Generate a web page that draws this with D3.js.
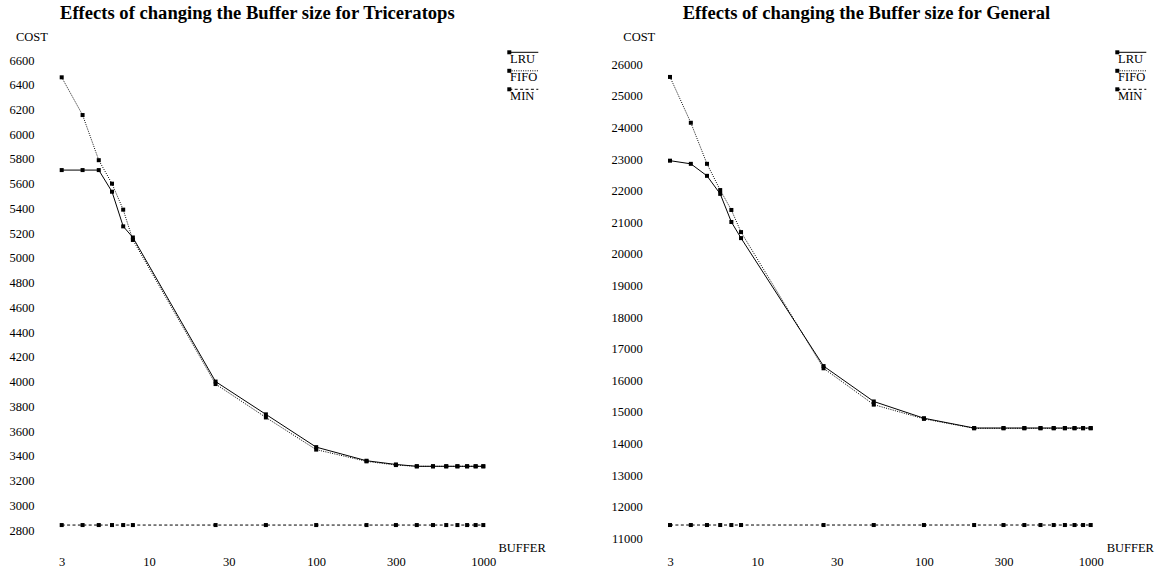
<!DOCTYPE html>
<html>
<head>
<meta charset="utf-8">
<script src="https://cdn.jsdelivr.net/npm/d3@7"></script>
<style>
    body { margin: 0; background: #fff; }
    svg { display: block; }
    text { font-family: "Liberation Serif", "Times New Roman", serif; fill: #000; }
</style>
</head>
<body>
<div id="chart-div"></div>
<script>
// buffer sizes on the x axis (same for both plots)
const bufferSizes = [3, 4, 5, 6, 7, 8, 25, 50, 100, 200, 300, 400, 500, 600, 700, 800, 900, 1000];
const xTickValues = [3, 10, 30, 100, 300, 1000];

// Triceratops costs
const tricLRU = [5710, 5710, 5710, 5535, 5255, 5165, 4000, 3735, 3470, 3360, 3330, 3315, 3315, 3315, 3315, 3315, 3315, 3315];
const tricFIFO = [6460, 6155, 5790, 5600, 5390, 5145, 3980, 3710, 3450, 3355, 3325, 3315, 3315, 3315, 3315, 3315, 3315, 3315];
const tricMIN = [2840, 2840, 2840, 2840, 2840, 2840, 2840, 2840, 2840, 2840, 2840, 2840, 2840, 2840, 2840, 2840, 2840, 2840];
const tricYTicks = [2800, 3000, 3200, 3400, 3600, 3800, 4000, 4200, 4400, 4600, 4800, 5000, 5200, 5400, 5600, 5800, 6000, 6200, 6400, 6600];

// General costs
const genLRU = [22950, 22850, 22470, 21900, 21010, 20500, 16450, 15330, 14800, 14490, 14490, 14490, 14490, 14490, 14490, 14490, 14490, 14490];
const genFIFO = [25600, 24150, 22850, 22020, 21390, 20690, 16380, 15230, 14780, 14480, 14480, 14480, 14480, 14480, 14480, 14480, 14480, 14480];
const genMIN = [11420, 11420, 11420, 11420, 11420, 11420, 11420, 11420, 11420, 11420, 11420, 11420, 11420, 11420, 11420, 11420, 11420, 11420];
const genYTicks = [11000, 12000, 13000, 14000, 15000, 16000, 17000, 18000, 19000, 20000, 21000, 22000, 23000, 24000, 25000, 26000];

const seriesNames = ["LRU", "FIFO", "MIN"];
const dashes = { LRU: null, FIFO: "1,1.3", MIN: "3,2.4" };

const svg = d3.select("#chart-div")
    .append("svg")
    .attr("width", 1158)
    .attr("height", 575);

class Panel {
    constructor(opts) {
        this.opts = opts;
        this.g = svg.append("g");

        // log scale for buffer size, linear for cost
        this.x = d3.scaleLog().domain([3, 1000]).range(opts.xRange);
        this.y = d3.scaleLinear().domain(opts.yDomain).range(opts.yRange);

        this.drawTitle();
        this.drawAxes();
        this.drawLines();
        this.drawLegend();
    }

    drawTitle() {
        this.g.append("text")
            .attr("x", this.opts.titleX)
            .attr("y", 19.3)
            .style("font-size", "18.6px")
            .attr("font-weight", "bold")
            .text(this.opts.title);

        this.g.append("text")
            .attr("x", this.opts.costX)
            .attr("y", 40.5)
            .style("font-size", "12.5px")
            .text("COST");

        this.g.append("text")
            .attr("x", this.opts.bufferX)
            .attr("y", 551.5)
            .style("font-size", "12.5px")
            .text("BUFFER");
    }

    drawAxes() {
        // x tick labels only
        this.g.append("g")
            .attr("transform", "translate(0,548)")
            .call(d3.axisBottom(this.x).tickValues(xTickValues).tickFormat(d3.format("d")).tickSize(0).tickPadding(9))
            .call(g => g.select(".domain").remove())
            .selectAll("text")
            .style("font-size", "12.5px")
            .style("font-family", "Liberation Serif, Times New Roman, serif");

        // y tick labels only
        this.g.append("g")
            .attr("transform", "translate(" + this.opts.yLabelX + ",0)")
            .call(d3.axisLeft(this.y).tickValues(this.opts.yTicks).tickFormat(d3.format("d")).tickSize(0).tickPadding(0))
            .call(g => g.select(".domain").remove())
            .selectAll("text")
            .style("font-size", "12.5px")
            .style("font-family", "Liberation Serif, Times New Roman, serif");
    }

    drawLines() {
        let line = d3.line()
            .x(d => this.x(d.size))
            .y(d => this.y(d.cost));

        // MIN first so LRU sits on top
        ["MIN", "FIFO", "LRU"].forEach(name => {
            let data = bufferSizes.map((s, i) => ({ size: s, cost: this.opts.series[name][i] }));

            this.g.append("path")
                .datum(data)
                .attr("fill", "none")
                .attr("stroke", "#000")
                .attr("stroke-width", 1)
                .attr("stroke-dasharray", dashes[name])
                .attr("d", line);

            this.g.append("g")
                .selectAll("rect")
                .data(data)
                .join("rect")
                .attr("x", d => this.x(d.size) - 2)
                .attr("y", d => this.y(d.cost) - 2)
                .attr("width", 4)
                .attr("height", 4)
                .attr("fill", "#000");
        });
    }

    drawLegend() {
        let lx = this.opts.legendX;
        seriesNames.forEach((name, i) => {
            let ly = 52.3 + i * 18.5;
            this.g.append("line")
                .attr("x1", lx)
                .attr("x2", lx + 29)
                .attr("y1", ly)
                .attr("y2", ly)
                .attr("stroke", "#000")
                .attr("stroke-width", 1)
                .attr("stroke-dasharray", dashes[name]);
            this.g.append("rect")
                .attr("x", lx - 2)
                .attr("y", ly - 2)
                .attr("width", 4)
                .attr("height", 4)
                .attr("fill", "#000");
            this.g.append("text")
                .attr("x", lx + 0.8)
                .attr("y", ly + 10.5)
                .style("font-size", "12.5px")
                .text(name);
        });
    }
}

new Panel({
    title: "Effects of changing the Buffer size for Triceratops",
    titleX: 60,
    costX: 16,
    bufferX: 498.5,
    yLabelX: 34.5,
    legendX: 509.3,
    xRange: [61.7, 483.3],
    yDomain: [2800, 6600],
    yRange: [530, 60],
    yTicks: tricYTicks,
    series: { LRU: tricLRU, FIFO: tricFIFO, MIN: tricMIN }
});

new Panel({
    title: "Effects of changing the Buffer size for General",
    titleX: 682.7,
    costX: 623.3,
    bufferX: 1106.7,
    yLabelX: 642.7,
    legendX: 1117.3,
    xRange: [670, 1090.7],
    yDomain: [11000, 26000],
    yRange: [538.3, 64.3],
    yTicks: genYTicks,
    series: { LRU: genLRU, FIFO: genFIFO, MIN: genMIN }
});
</script>
</body>
</html>
